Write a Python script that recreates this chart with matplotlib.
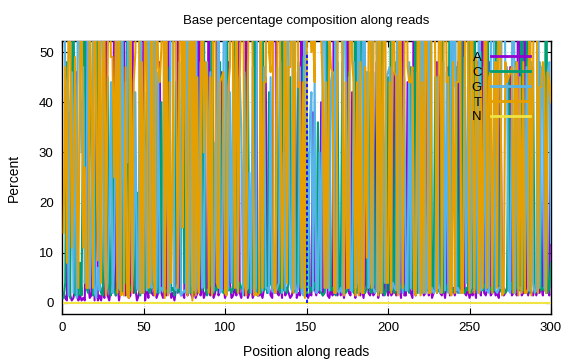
import matplotlib
matplotlib.use("Agg")
import matplotlib.pyplot as plt

plt.rcParams['font.family'] = ['Liberation Sans', 'DejaVu Sans']

positions = list(range(1, 301))

pct_A = [2,1,0.5,38,1.5,0.5,1,3,46,0.5,
         1.5,0.5,1,0.5,78,4,1,1.5,35,0.5,
         42,0.5,1.5,0.5,3,1,92,1.5,0.5,3,
         2,62,1.5,4,0.5,3,25,60,1.5,2,
         1,1.5,86,2,3,0.5,1.5,4,2,58,
         0.5,4,1,85,2,1.5,3,1,2,48,
         2,1,3,1.5,79,4,1,2,0.5,3,
         86,3,1.5,2,1,45,1.5,3,2,1,
         3,1,2,90,1.5,4,1,2,3,70,
         1.5,3,1,2,84,1.5,3,46,4,1,
         2,48,4,1,1.5,3,1.5,78,2,1,
         3,1.5,90,1,2,4,1,2,66,1.5,
         1.5,2,1,3,45,2,3,1.5,1,88,
         89,2,1.5,4,1,42,1.5,3,2,1,
         1.5,3,46,1,2,1.5,88,3,1.5,2,
         1,2,1.5,38,3,1.5,4,2,40,1.5,
         2,45,1.5,1,3,1.5,88,2,1.5,3,
         1.5,3,1,4,85,2,1.5,42,3,1,
         47,2,1.5,3,1,4,40,2,1.5,3,
         1.5,2,48,1,4,3,1.5,2,45,1.5,
         3,1.5,2,46,1.5,2,3,1,88,1.5,
         1.5,44,3,2,1,88,1.5,3,4,2,
         3,1.5,2,46,1.5,4,1,2,3,48,
         45,2,1.5,3,1,4,47,1.5,2,3,
         1.5,3,48,2,4,87,2,1.5,3,1,
         2,1.5,3,1,48,3,1.5,86,2,1.5,
         3,48,1.5,2,4,1.5,2,1,46,2,
         1.5,2,3,4,47,1.5,2,3,1.5,88,
         46,1.5,2,88,3,1.5,4,2,1.5,3,
         1.5,3,2,4,1.5,46,2,3,1.5,40]

pct_C = [1,4,48,2,1,42,70,1.5,31,1.5,
         8,1.5,40,66,3,2,35,44,1.5,3,
         25,84,4,2,1.5,30,2,45,3,1.5,
         44,3,1.5,2.5,8,88,2,35,4,65,
         3,2.5,4,42,2,22,3,1.5,45,2,
         3,42,2.5,2,4,3,90,24,2,3,
         40,3,2,2.5,2,47,2.5,3,1.5,44,
         2,2.5,3,78,4,28,2.5,47,2,3,
         2,4,45,2,24,2.5,62,3,1.5,2.5,
         4,89,2,3,2.5,28,48,3,2,2.5,
         90,2.5,3,2,3,60,2.5,2,4,3,
         2.5,45,2,48,2,2.5,4,90,25,1.5,
         3,2,89,2.5,4,2,42,4,3,2.5,
         2.5,47,3,2,90,2.5,3,2,4,45,
         4,2,2.5,3,48,4,2.5,49,3,1.5,
         30,2,3,2.5,4,2.5,36,3,2,1.5,
         2,4,86,40,2.5,3,2,1.5,48,2.5,
         2.5,48,3,2,2.5,46,3,4,2,90,
         2,3,45,88,2.5,2,3,46,2.5,2,
         46,4,2.5,3,2,88,3,1.5,2.5,45,
         2.5,89,3,2,48,2,4,3,2.5,2.5,
         4,3,2,47,3,2.5,90,2,2.5,2,
         48,2.5,4,2.5,3,87,2.5,3,45,2,
         2.5,3,89,2,4,2.5,3,88,2,2.5,
         3,47,2,4,86,2.5,2,3,2.5,90,
         2,4,87,3,2.5,2,50,2.5,3,4,
         86,2.5,3,2,2.5,45,88,4,2.5,2,
         3,2,2.5,45,2.5,4,2,48,3,2.5,
         2.5,89,3,2,44,88,2,45,47,2.5,
         3,2,48,2.5,3,2.5,89,2,3,8]

pct_G = [81,45,43,1.5,40,46,2,44,1,92,
         44,30,47,4,12,86,3,14,58,2,
         1,7,2.5,90,48,8,1.5,4,18,44,
         2,8,40,86,3,2.5,68,1.5,44,28,
         91,28,2.5,10,42,3,2.5,88,2,35,
         30,2.5,89,4,3,84,1.5,3,46,2,
         3,2.5,90,25,15,2,88,64,3,2.5,
         4,48,1.5,2,2.5,2,90,2,22,92,
         2.5,89,4,2,48,3,4,43,48,22,
         46,2,2.5,32,4,64,2,2.5,45,90,
         2,3,42,4,49,30,3,15,45,35,
         1.5,46,2.5,3,26,2,47,2,3,92,
         88,25,2.5,47,3,3,2,45,2.5,2,
         2,3,4,48,2,30,2.5,86,43,4,
         2.5,88,4,2,3,47,2,1.5,90,45,
         3,36,42,2.5,45,2,2.5,30,2.5,52,
         88,3,4,2.5,44,46,3,90,2.5,2,
         3,2,90,47,4,45,2.5,2.5,48,3,
         4,88,2.5,2,90,44,46,3,4,87,
         3,2,2.5,90,2.5,2,47,4,45,46,
         47,2.5,4,3,2.5,90,2,48,2,45,
         2.5,2.5,48,3,46,2,2.5,46,2,90,
         2,89,2,3,88,2,3,2,2.5,45,
         4,2,2.5,48,2.5,46,2,3,90,43,
         88,2.5,3,2,2.5,3,49,4,43,2.5,
         3,46,2.5,44,2,88,2.5,3,47,2.5,
         2.5,2,46,89,46,2.5,2,3,3,90,
         88,45,47,2.5,2,44,89,2,44,3,
         3,2.5,43,3,47,2.5,2.5,48,4,2,
         2.5,88,3,47,44,3,2,46,48,12]

pct_T = [14,47,8,57,56,11,25,49,22,3,
         45,67,11,27,3,3,58,39,3,91,
         32,8.5,87,4,45,60,1.5,46,76,49,
         49,25,55,2,86,1.5,2,1.5,47,1.5,
         1,65,2,44,50,72,88,2,48,2,
         64.5,48,3,4,85,8,1.5,69,47,44,
         51,89,1,68,1.5,44,4,27,92,47,
         3,43,90,15,88,24,1.5,45,71,0.5,
         88,1.5,45,2,25,85,30,48,45,2,
         45,1.5,91,59,4,3,44,45,46,2,
         1.5,43,47,89,43,3,88,2,45,58,
         89,4,1.5,45,67,87,45,1.5,2,1.5,
         2,68,3,44,44,88,50,46,89,3,
         2,44,86,43,3,24,88,4,47,47,
         87,2,44,90,43,44,3,44,1,49,
         63,57,50,54,44,90,54,61,53,43,
         3,44,3,54,47,46,2,2,45,88,
         88,44,1.5,44,3,3,88,48,44,1.5,
         44,1.5,48,2,2,47,9,45,87,3,
         46,87,44,1.5,87,2,45,88,4,4,
         44,2,85,46,45,1.5,86,45,3,48,
         87,47,44,44,47,3,1.5,46,87,1.5,
         44,2,87,45,2,2,89,88,46,2,
         45,88,2,44,88,44,45,2,1.5,48,
         2,44,44,87,2,2,44,86,48,2,
         88,45,2,49,45,2,43,3,44,87,
         3,45,46,2,44,48,3,87,45,1.5,
         2,48,44,45,46,47,2,44,48,1.5,
         45,2,48,2,2,3,87,1.5,44,88,
         88,2,43,43,48,45,2,46,44,40]

pct_N = [0,0,0,0,0,0,0,0,0,0, 0,0,0,0,0,0,0,0,0,0,
         0,0,0,0,0,0,0,0,0,0, 0,0,0,0,0,0,0,0,0,0,
         0,0,0,0,0,0,0,0,0,0, 0,0,0,0,0,0,0,0,0,0,
         0,0,0,0,0,0,0,0,0,0, 0,0,0,0,0,0,0,0,0,0,
         0,0,0,0,0,0,0,0,0,0, 0,0,0,0,0,0,0,0,0,0,
         0,0,0,0,0,0,0,0,0,0, 0,0,0,0,0,0,0,0,0,0,
         0,0,0,0,0,0,0,0,0,0, 0,0,0,0,0,0,0,0,0,0,
         0,0,0,0,0,0,0,0,0,0, 0,0,0,0,0,0,0,0,0,0,
         0,0,0,0,0,0,0,0,0,0, 0,0,0,0,0,0,0,0,0,0,
         0,0,0,0,0,0,0,0,0,0, 0,0,0,0,0,0,0,0,0,0,
         0,0,0,0,0,0,0,0,0,0, 0,0,0,0,0,0,0,0,0,0,
         0,0,0,0,0,0,0,0,0,0, 0,0,0,0,0,0,0,0,0,0,
         0,0,0,0,0,0,0,0,0,0, 0,0,0,0,0,0,0,0,0,0,
         0,0,0,0,0,0,0,0,0,0, 0,0,0,0,0,0,0,0,0,0,
         0,0,0,0,0,0,0,0,0,0, 0,0,0,0,0,0,0,0,0,0]

series_labels = ["A", "C", "G", "T", "N"]
series_colors = ["#9400d3", "#009e73", "#56b4e9", "#e69f00", "#f0e442"]

marker_position = 150
marker_top = 50

x_ticks = [0, 50, 100, 150, 200, 250, 300]
y_ticks = [0, 10, 20, 30, 40, 50]

fig = plt.figure(figsize=(5.76, 3.6), dpi=100)
ax = fig.add_axes([62/576, 46/360, 489/576, 273/360])

data = [pct_A, pct_C, pct_G, pct_T, pct_N]
handles = []
for vals, lab, col in zip(data, series_labels, series_colors):
    h, = ax.plot(positions, vals, color=col, lw=1.5, label=lab, zorder=3)
    handles.append(h)

ax.plot([marker_position, marker_position], [0, marker_top], color="#0000ff",
        lw=1.2, ls=(0, (2, 1.5)), zorder=4)

ax.set_xlim(0, 300)
ax.set_ylim(-2.2, 52.2)
ax.set_xticks(x_ticks)
ax.set_yticks(y_ticks)
ax.tick_params(direction="in", top=True, right=True, length=4, width=0.8,
               labelsize=9.5, pad=6)
ax.grid(True, color="#b0b0b0", ls=(0, (1, 2)), lw=0.6, zorder=0)
for s in ax.spines.values():
    s.set_linewidth(1.0)

ax.set_title("Base percentage composition along reads", fontsize=9.5, pad=12)
ax.set_xlabel("Position along reads", fontsize=10, labelpad=8)
ax.set_ylabel("Percent", fontsize=10, labelpad=13)

leg = ax.legend(handles=handles, loc="upper right", bbox_to_anchor=(0.968, 0.98),
                frameon=False, markerfirst=False, fontsize=9.5, handlelength=2.95,
                labelspacing=0.2, handletextpad=0.7, borderaxespad=0)
for lh in leg.get_lines():
    lh.set_linewidth(2)
leg.set_zorder(5)

fig.savefig("out.png", dpi=100)
